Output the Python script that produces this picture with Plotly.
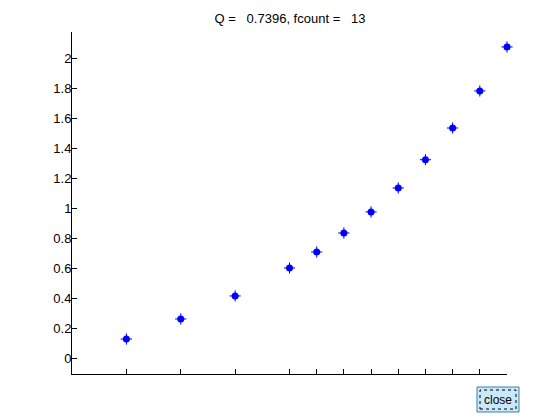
import plotly.graph_objects as go

x_vals = [2, 4, 6, 8, 9, 10, 11, 12, 13, 14, 15, 16]
y_vals = [0.127, 0.261, 0.415, 0.602, 0.709, 0.836, 0.977, 1.137, 1.326, 1.538, 1.786, 2.080]
y_ticks = [0, 0.2, 0.4, 0.6, 0.8, 1.0, 1.2, 1.4, 1.6, 1.8, 2.0]
y_tick_text = ["0", "0.2", "0.4", "0.6", "0.8", "1", "1.2", "1.4", "1.6", "1.8", "2"]
title_text = "Q =   0.7396, fcount =   13"

FONT = "Liberation Sans, Arial, Helvetica, sans-serif"

fig = go.Figure()
fig.add_trace(go.Scatter(
    x=x_vals, y=y_vals, mode="markers", cliponaxis=False,
    marker=dict(symbol="circle", size=7, color="#0000ff", line=dict(width=0)),
    hoverinfo="skip", showlegend=False))
fig.add_trace(go.Scatter(
    x=x_vals, y=y_vals, mode="markers", cliponaxis=False,
    marker=dict(symbol="cross-thin-open", size=8, color="#0000ff", line=dict(width=1, color="#0000ff")),
    hoverinfo="skip", showlegend=False))

fig.update_layout(
    width=560, height=420,
    margin=dict(l=72, r=53, t=32, b=46, autoexpand=False),
    paper_bgcolor="white", plot_bgcolor="white",
    font=dict(family=FONT, size=13, color="black"),
    title=dict(text=title_text, x=290 / 560, xanchor="center", y=1 - 18 / 420, yanchor="middle",
               font=dict(family=FONT, size=13, color="black")),
    xaxis=dict(range=[0, 16], showline=True, linecolor="black", linewidth=1,
               showgrid=False, zeroline=False, ticks="inside", ticklen=5, tickcolor="black",
               tickvals=x_vals, showticklabels=False, mirror=False, automargin=False),
    yaxis=dict(range=[-0.107, 2.18], showline=True, linecolor="black", linewidth=1,
               showgrid=False, zeroline=False, ticks="inside", ticklen=5, tickcolor="black",
               tickvals=y_ticks, ticktext=y_tick_text, tickfont=dict(size=13, family=FONT),
               ticklabelstandoff=-3, automargin=False),
)

# "close" button
px0, px1 = 72, 507
py0, py1 = 374, 32
def xp(px):
    return (px - px0) / (px1 - px0)
def yp(py):
    return (py0 - py) / (py0 - py1)

fig.add_shape(type="rect", xref="paper", yref="paper",
              x0=xp(477), x1=xp(519), y0=yp(412), y1=yp(387),
              fillcolor="#c9e8fa", line=dict(color="#3c7fb1", width=1))
fig.add_shape(type="rect", xref="paper", yref="paper",
              x0=xp(480), x1=xp(516), y0=yp(409), y1=yp(390),
              fillcolor="rgba(0,0,0,0)", line=dict(color="black", width=1, dash="dot"))
fig.add_annotation(text="close", xref="paper", yref="paper", x=xp(498), y=yp(400),
                   showarrow=False, font=dict(family=FONT, size=12, color="black"),
                   xanchor="center", yanchor="middle")

fig.write_html("out.html", config={"displayModeBar": False},
               post_script="document.body.style.margin='0px';document.body.style.padding='0px';")
